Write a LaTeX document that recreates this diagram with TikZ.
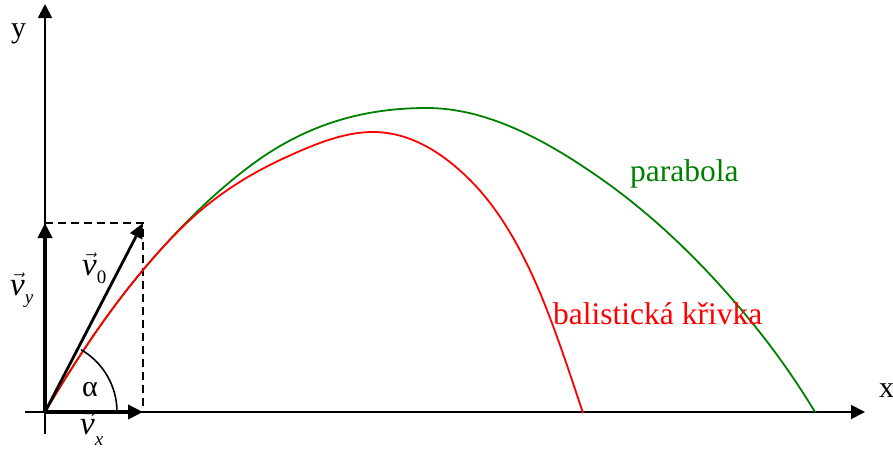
\documentclass[tikz,border=0pt]{standalone}
\usepackage{fontspec}
\setmainfont{Liberation Serif}
\usetikzlibrary{arrows.meta}
\definecolor{pgreen}{RGB}{0,128,0}
\definecolor{pred}{RGB}{255,0,0}
\newcommand{\vlab}[2]{$\vec{\hbox{\textit{v}}}$\raisebox{-#2}{\fontsize{19}{22}\selectfont #1}}
\begin{document}
\begin{tikzpicture}[x=1pt,y=-1pt,
  axis/.style={line width=1.8pt,-{Triangle[length=14pt,width=14pt]}},
  vect/.style={line width=3.6pt,-{Triangle[length=15pt,width=14pt]}},
  guide/.style={line width=1.8pt,dash pattern=on 8pt off 5pt},
  lbl/.style={inner sep=0pt,font=\fontsize{30}{36}\selectfont},
  vlbl/.style={inner sep=0pt,anchor=base west,font=\fontsize{33}{38}\selectfont},
  curvelbl/.style={inner sep=0pt,font=\fontsize{31.5}{38}\selectfont},
  curve/.style={line width=1.8pt},
  every node/.style={inner sep=0pt}]
\useasboundingbox (0,0) rectangle (893,448);
\coordinate (O) at (45,412);
\coordinate (xs) at (25,412);
\coordinate (xe) at (865,412);
\coordinate (ys) at (45,434);
\coordinate (ye) at (45,4);
\coordinate (V0) at (143,223);
\coordinate (VY) at (45,223);
\coordinate (VX) at (143,412);
% axes
\draw[axis] (xs) -- (xe);
\draw[axis] (ys) -- (ye);
\node[lbl,anchor=base west] (ylab) at (11,37) {y};
\node[lbl,anchor=base west] (xlab) at (879,397) {x};
% dashed guides
\draw[guide] (VY) -- (V0) -- (VX);
% green parabola
\draw[pgreen,curve] (O)
  .. controls (77.7,356.5) and (110.3,308.9) .. (143,270)
  .. controls (178.7,227.6) and (214.3,192.75) .. (250,166)
  .. controls (309,121.75) and (368,108) .. (427,108)
  .. controls (484.7,108) and (542.3,137.6) .. (600,178)
  .. controls (644.3,209) and (688.7,249) .. (733,300)
  .. controls (760.3,331.4) and (787.7,366.9) .. (815,412);
% red ballistic curve
\draw[pred,curve] (O)
  .. controls (77.7,356.5) and (110.3,308.9) .. (143,270)
  .. controls (162,247.4) and (181,227.2) .. (200,211)
  .. controls (233.3,182.7) and (266.7,165.3) .. (300,151)
  .. controls (324.3,140.5) and (348.7,132) .. (373,132)
  .. controls (405.3,132) and (437.7,147.7) .. (470,180)
  .. controls (494.3,204.3) and (518.7,240.4) .. (543,300)
  .. controls (556.3,332.7) and (569.7,373) .. (583,413);
% vectors
\draw[vect] (O) -- (VY);
\draw[vect] (O) -- (VX);
\draw[line width=2.8pt,-{Triangle[length=15pt,width=13pt]}] (O) -- (V0);
% angle arc
\draw[line width=1.6pt] ([shift={(72,0)}]O) arc[start angle=0,end angle=-60,radius=72];
\node[lbl] (alpha) at (90,390) {α};
% vector labels
\node[vlbl] (vylab) at (10,295) {\vlab{\textit{y}}{8pt}};
\node[vlbl] (v0lab) at (82,275) {\vlab{0}{8pt}};
\node[vlbl] (vxlab) at (80,434) {\vlab{\textit{x}}{11pt}};
% curve labels
\node[curvelbl,anchor=base west,text=pgreen] (parab) at (630,181) {parabola};
\node[curvelbl,anchor=base west,text=pred] (balist) at (553,324) {balistická křivka};
\end{tikzpicture}
\end{document}
